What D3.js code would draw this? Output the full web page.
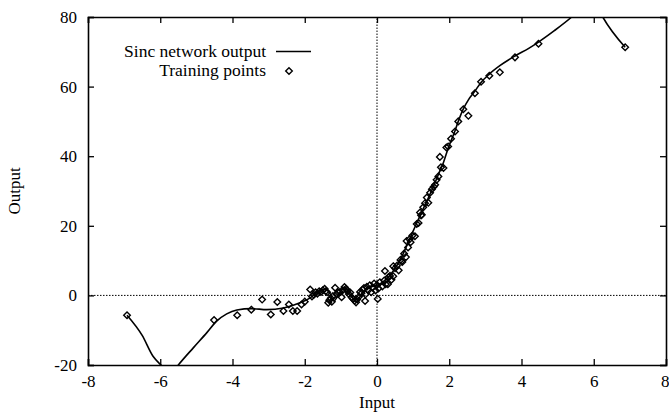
<!DOCTYPE html>
<html>
<head>
<meta charset="utf-8">
<script src="https://cdn.jsdelivr.net/npm/d3@7"></script>
<style>
  html, body { margin: 0; padding: 0; background: #fff; }
  svg { display: block; }
  text { font-family: "Liberation Serif", "Times New Roman", serif; fill: #000; }
</style>
</head>
<body>
<svg id="chart" width="669" height="412"></svg>
<script>
// Axis ranges and tick labels
const xDomain = [-8, 8];
const yDomain = [-20, 80];
const xTicks = [-8, -6, -4, -2, 0, 2, 4, 6, 8];
const yTicks = [-20, 0, 20, 40, 60, 80];

// Sinc network output, sampled along the input axis
const curveX = [-6.92, -6.5, -6.2, -6.0, -5.8, -5.6, -5.5, -5.08, -4.71, -4.44, -4.16, -3.88, -3.47,
  -3.05, -2.59, -2.13, -1.85, -1.67, -1.45, -1.3, -1.2, -1.05, -0.9, -0.75, -0.58, -0.42,
  -0.25, -0.1, 0.08, 0.2, 0.36, 0.55, 0.73, 0.91, 1.1, 1.24, 1.42, 1.6, 1.74, 1.84, 1.97,
  2.16, 2.25, 2.39, 2.53, 2.71, 2.88, 3.11, 3.4, 3.82, 4.2, 4.47, 4.9, 5.39, 5.8, 6.05, 6.25, 6.87];
const curveY = [-5.7, -11.5, -17.5, -19.8, -21.5, -21.3, -20.0, -15.0, -10.7, -7.4, -5.3, -4.2, -3.8,
  -4.1, -3.6, -2.1, -0.7, 0.8, 1.8, 0.5, -1.6, 0.5, 2.3, 0.5, -1.8, 0.5,
  2.3, 2.6, 3.3, 4.2, 5.8, 8.6, 12.1, 16.4, 20.8, 24.0, 28.0, 32.2, 35.8, 38.2, 42.3,
  47.3, 50.0, 53.6, 56.2, 58.7, 61.2, 63.6, 66.0, 68.8, 71.0, 72.8, 76.0, 80.0, 84.0, 84.0, 80.0, 71.3];

// Training points
const pointX = [-6.92, -4.51, -3.87, -3.48, -3.18, -2.94, -2.76, -2.59, -2.44, -2.33, -2.21, -2.09, -2.0,
  -1.85, -1.8, -1.75, -1.7, -1.65, -1.6, -1.55, -1.5, -1.45, -1.42, -1.38, -1.35, -1.32, -1.28,
  -1.25, -1.22, -1.16, -1.12, -1.08, -1.03, -0.98, -0.95, -0.9, -0.86, -0.82, -0.78, -0.74, -0.7,
  -0.66, -0.62, -0.58, -0.55, -0.5, -0.47, -0.43, -0.4, -0.36, -0.33, -0.32, -0.28, -0.24, -0.2,
  -0.16, -0.12, -0.08, -0.04, 0.0, 0.02, 0.04, 0.08, 0.15, 0.2, 0.22, 0.24, 0.3, 0.32, 0.36,
  0.4, 0.45, 0.45, 0.5, 0.55, 0.6, 0.65, 0.68, 0.7, 0.75, 0.8, 0.82, 0.86, 0.9, 0.93, 0.98,
  1.05, 1.1, 1.15, 1.19, 1.22, 1.24, 1.28, 1.33, 1.38, 1.42, 1.47, 1.52, 1.57, 1.61, 1.65,
  1.7, 1.74, 1.77, 1.84, 1.92, 1.97, 2.05, 2.16, 2.25, 2.39, 2.53, 2.71, 2.88, 3.11, 3.4,
  3.82, 4.47, 6.87];
const pointY = [-5.7, -7.1, -5.7, -4.1, -1.2, -5.5, -1.9, -4.5, -2.6, -4.5, -4.5, -2.6, -1.8,
  1.7, -0.3, 0.2, 0.9, 0.5, 1.2, 1.0, 1.5, 1.9, 1.2, 0.9, -2.1, -1.4, -0.8,
  -1.8, -0.2, 2.2, 0.3, 0.9, 1.0, -0.5, 1.5, 2.4, 1.9, 1.3, 0.4, 0.8, -0.6,
  -1.0, -1.5, -2.0, -1.2, -0.4, 1.0, 0.6, 1.6, 2.1, -1.6, 0.3, 2.5, 1.5, 2.9,
  0.9, 2.3, 3.4, 1.4, 3.0, -1.0, 2.0, 3.8, 2.6, 4.3, 7.0, 3.2, 3.2, 5.3, 5.6,
  4.5, 5.5, 8.4, 7.8, 8.5, 7.2, 10.2, 9.8, 9.6, 12.0, 11.0, 15.6, 13.8, 16.1, 15.3, 17.2,
  17.0, 20.5, 20.8, 23.8, 23.0, 23.2, 25.3, 26.5, 28.1, 26.6, 29.5, 30.5, 31.2, 31.8, 33.2,
  34.2, 39.8, 36.8, 36.6, 42.5, 42.8, 45.0, 47.1, 50.0, 53.5, 51.6, 58.1, 61.4, 63.1, 64.1,
  68.4, 72.3, 71.3];

const seriesNames = ["Sinc network output", "Training points"];

const svg = d3.select("#chart");
const margin = { left: 88, right: 3, top: 17, bottom: 47 };
const W = 669, H = 412;
const x = d3.scaleLinear().domain(xDomain).range([margin.left, W - margin.right]);
const y = d3.scaleLinear().domain(yDomain).range([H - margin.bottom, margin.top]);
const x0 = x.range()[0], x1 = x.range()[1], y0 = y.range()[0], y1 = y.range()[1];

svg.append("defs").append("clipPath").attr("id", "plot")
  .append("rect").attr("x", x0).attr("y", y1).attr("width", x1 - x0).attr("height", y0 - y1);

// Dotted zero axes
svg.append("line").attr("x1", x0).attr("x2", x1).attr("y1", y(0)).attr("y2", y(0))
  .attr("stroke", "#000").attr("stroke-width", 1).attr("stroke-dasharray", "1.5,1.5");
svg.append("line").attr("x1", x(0)).attr("x2", x(0)).attr("y1", y0).attr("y2", y1)
  .attr("stroke", "#000").attr("stroke-width", 1).attr("stroke-dasharray", "1.5,1.5");

// Axes with inward ticks on all four sides; labels use a plain hyphen for negatives
const plain = d => String(d);
const tickLen = 6;
const axB = svg.append("g").attr("transform", `translate(0,${y0})`)
  .call(d3.axisBottom(x).tickValues(xTicks).tickSize(-tickLen).tickPadding(10).tickFormat(plain));
const axT = svg.append("g").attr("transform", `translate(0,${y1})`)
  .call(d3.axisTop(x).tickValues(xTicks).tickSize(-tickLen).tickFormat(""));
const axL = svg.append("g").attr("transform", `translate(${x0},0)`)
  .call(d3.axisLeft(y).tickValues(yTicks).tickSize(-tickLen).tickPadding(11).tickFormat(plain));
const axR = svg.append("g").attr("transform", `translate(${x1},0)`)
  .call(d3.axisRight(y).tickValues(yTicks).tickSize(-tickLen).tickFormat(""));
[axB, axT, axL, axR].forEach(g => {
  g.select(".domain").attr("stroke", "#000").attr("stroke-width", 1.6);
  g.selectAll(".tick line").attr("stroke", "#000").attr("stroke-width", 1.3);
  g.selectAll("text").attr("font-family", "Liberation Serif, serif").attr("font-size", 17).attr("fill", "#000");
});
// keep the last bottom label inside the frame edge
axB.selectAll(".tick text").filter(d => d === xDomain[1]).attr("text-anchor", "end").attr("x", 3);

// Network output curve
const lineGen = d3.line().x((d, i) => x(curveX[i])).y(d => y(d)).curve(d3.curveMonotoneX);
svg.append("path").datum(curveY).attr("clip-path", "url(#plot)")
  .attr("d", lineGen).attr("fill", "none").attr("stroke", "#000").attr("stroke-width", 1.6);

// Training points as open diamonds
const diamond = (cx, cy, r) => `M${cx},${cy - r}L${cx + r},${cy}L${cx},${cy + r}L${cx - r},${cy}Z`;
svg.append("g").selectAll("path").data(pointX).join("path")
  .attr("d", (d, i) => diamond(x(d), y(pointY[i]), 3.3))
  .attr("fill", "none").attr("stroke", "#000").attr("stroke-width", 1.4);

// Legend
const legend = svg.append("g").attr("font-size", 17.5);
legend.append("text").attr("x", 266).attr("y", 57).attr("text-anchor", "end").text(seriesNames[0]);
legend.append("line").attr("x1", 276).attr("x2", 311).attr("y1", 51.5).attr("y2", 51.5)
  .attr("stroke", "#000").attr("stroke-width", 1.5);
legend.append("text").attr("x", 266).attr("y", 76).attr("text-anchor", "end").text(seriesNames[1]);
legend.append("path").attr("d", diamond(289, 71, 3.3)).attr("fill", "none").attr("stroke", "#000").attr("stroke-width", 1.4);

// Axis titles
svg.append("text").attr("x", (x0 + x1) / 2).attr("y", 408).attr("text-anchor", "middle")
  .attr("font-size", 17).text("Input");
svg.append("text").attr("transform", `translate(20,${(y0 + y1) / 2}) rotate(-90)`)
  .attr("text-anchor", "middle").attr("font-size", 17).text("Output");
</script>
</body>
</html>
